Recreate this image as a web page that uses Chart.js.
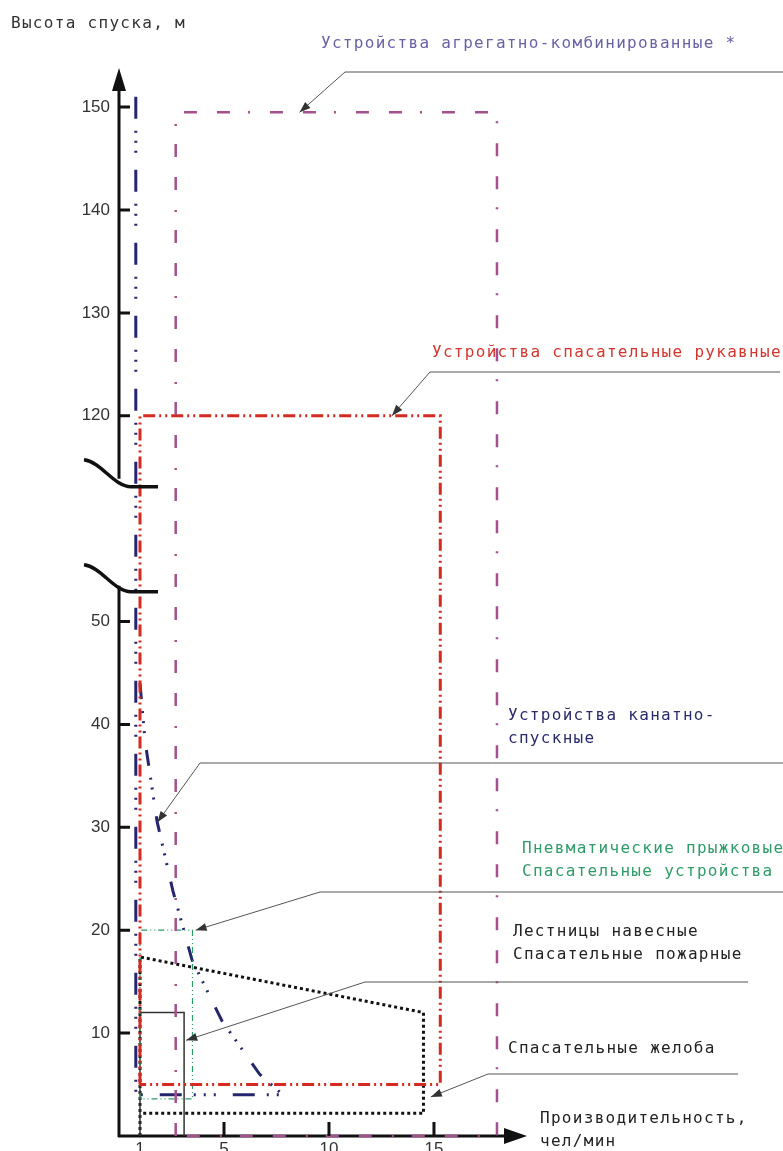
<!DOCTYPE html>
<html>
<head>
<meta charset="utf-8">
<script src="https://cdn.jsdelivr.net/npm/chart.js@4/dist/chart.umd.min.js"></script>
<style>
  html, body { margin: 0; padding: 0; background: #fff; }
  canvas { display: block; }
</style>
</head>
<body>
<canvas id="chart" width="783" height="1151"></canvas>
<script>
// x: производительность, чел/мин; y: высота спуска, м
const xTicks = [1, 5, 10, 15];
const yTicks = [10, 20, 30, 40, 50, 120, 130, 140, 150];

// устройства агрегатно-комбинированные
const aggX = [2.7, 2.7, 18.0, 18.0, 2.7];
const aggY = [0, 149.5, 149.5, 0, 0];
// устройства спасательные рукавные
const sleeveX = [1.0, 1.0, 15.3, 15.3, 1.0];
const sleeveY = [5, 120, 120, 5, 5];
// устройства канатно-спускные
const ropeX = [0.8, 0.8, 7.8];
const ropeY = [151, 4, 4];
const ropeSlopeX = [1.0, 1.24, 1.81, 2.57, 3.48, 4.9, 6.7, 7.8];
const ropeSlopeY = [44, 38.4, 30.6, 23.8, 17.1, 11.2, 6.0, 4.0];
// пневматические прыжковые спасательные устройства
const cushionX = [1.0, 1.0, 3.5, 3.5, 1.0];
const cushionY = [3.6, 20, 20, 3.6, 3.6];
// лестницы навесные, спасательные пожарные
const ladderX = [1.0, 1.0, 3.1, 3.1];
const ladderY = [0, 12, 12, 0];
// спасательные желоба
const chuteX = [1.0, 1.0, 14.5, 14.5, 1.0];
const chuteY = [0, 17.4, 12.0, 2.2, 2.2];

// разрыв оси Y: всё выше 60 м сдвигается вниз на 50
const SHIFT = 50;
const breakLow = 52.9, breakHigh = 113.1;
const toAxis = v => (v >= 60 ? v - SHIFT : v);

const pts = (xs, ys) => xs.map((x, i) => ({ x: x, y: toAxis(ys[i]) }));

const LABEL_FONT = '16px "DejaVu Sans Mono"';

function text(ctx, str, x, y, color) {
  ctx.fillStyle = color;
  ctx.font = LABEL_FONT;
  ctx.letterSpacing = '1.3px';
  ctx.textBaseline = 'middle';
  ctx.textAlign = 'left';
  ctx.fillText(str, x, y);
}

function arrowHead(ctx, fx, fy, tx, ty, len, half) {
  const a = Math.atan2(ty - fy, tx - fx);
  ctx.beginPath();
  ctx.moveTo(tx, ty);
  ctx.lineTo(tx - len * Math.cos(a) + half * Math.sin(a), ty - len * Math.sin(a) - half * Math.cos(a));
  ctx.lineTo(tx - len * Math.cos(a) - half * Math.sin(a), ty - len * Math.sin(a) + half * Math.cos(a));
  ctx.closePath();
  ctx.fill();
}

function leader(ctx, chart, x0, x1, yl, tx, ty) {
  const px = chart.scales.x.getPixelForValue(tx);
  const py = chart.scales.y.getPixelForValue(toAxis(ty));
  ctx.strokeStyle = '#555';
  ctx.fillStyle = '#333';
  ctx.lineWidth = 1;
  ctx.beginPath();
  ctx.moveTo(x1, yl);
  ctx.lineTo(x0, yl);
  ctx.lineTo(px, py);
  ctx.stroke();
  arrowHead(ctx, x0, yl, px, py, 11, 4);
}

const decor = {
  id: 'decor',
  beforeDatasetsDraw(chart) {
    const { ctx, scales: { x, y }, chartArea } = chart;
    const ax = x.getPixelForValue(0);
    const ay = y.getPixelForValue(0);
    const lowB = y.getPixelForValue(toAxis(breakLow));
    const upB = y.getPixelForValue(toAxis(breakHigh));
    ctx.save();
    ctx.strokeStyle = '#111';
    ctx.lineWidth = 3;
    ctx.beginPath();
    ctx.moveTo(ax, ay + 1); ctx.lineTo(ax, lowB - 6);
    ctx.moveTo(ax, upB - 8); ctx.lineTo(ax, chartArea.top + 16);
    ctx.moveTo(ax - 1, ay); ctx.lineTo(chartArea.right - 18, ay);
    ctx.stroke();
    ctx.restore();
  },
  afterDatasetsDraw(chart) {
    const { ctx, scales: { x, y }, chartArea } = chart;
    const ax = x.getPixelForValue(0);
    const ay = y.getPixelForValue(0);
    ctx.save();
    // ticks
    ctx.strokeStyle = '#111';
    ctx.lineWidth = 3;
    ctx.beginPath();
    yTicks.forEach(v => {
      const py = y.getPixelForValue(toAxis(v));
      ctx.moveTo(ax, py); ctx.lineTo(ax + 11, py);
    });
    xTicks.filter(v => v > 1).forEach(v => {
      const px = x.getPixelForValue(v);
      ctx.moveTo(px, ay); ctx.lineTo(px, ay - 14);
    });
    ctx.stroke();
    // break marks
    ctx.lineWidth = 3.5;
    [breakLow, breakHigh].forEach(b => {
      const yb = y.getPixelForValue(toAxis(b));
      ctx.beginPath();
      ctx.moveTo(ax - 35, yb - 27);
      ctx.bezierCurveTo(ax - 18, yb - 25, ax - 5, yb, ax + 12, yb);
      ctx.lineTo(ax + 39, yb);
      ctx.stroke();
    });
    // axis arrows
    ctx.fillStyle = '#111';
    ctx.beginPath();
    ctx.moveTo(ax, chartArea.top);
    ctx.lineTo(ax - 7, chartArea.top + 23);
    ctx.lineTo(ax + 7, chartArea.top + 23);
    ctx.closePath();
    ctx.fill();
    ctx.beginPath();
    ctx.moveTo(chartArea.right, ay);
    ctx.lineTo(chartArea.right - 23, ay - 8);
    ctx.lineTo(chartArea.right - 23, ay + 8);
    ctx.closePath();
    ctx.fill();

    // leader lines
    leader(ctx, chart, 345, 783, 72, 8.6, 149.5);
    leader(ctx, chart, 430, 780, 372, 13.0, 120);
    leader(ctx, chart, 200, 783, 763, 1.83, 30.5);
    leader(ctx, chart, 320, 783, 892, 3.65, 20);
    leader(ctx, chart, 365, 748, 982, 3.2, 9.3);
    leader(ctx, chart, 488, 738, 1074, 14.85, 3.8);

    // labels
    text(ctx, 'Высота спуска, м', 11, 24, '#333');
    text(ctx, 'Устройства агрегатно-комбинированные *', 321, 44, '#6a62a6');
    text(ctx, 'Устройства спасательные рукавные', 432, 353, '#d2372f');
    text(ctx, 'Устройства канатно-', 508, 716, '#2b2b6b');
    text(ctx, 'спускные', 508, 739, '#2b2b6b');
    text(ctx, 'Пневматические прыжковые', 522, 849, '#2f9c68');
    text(ctx, 'Спасательные устройства', 522, 872, '#2f9c68');
    text(ctx, 'Лестницы навесные', 513, 932, '#222');
    text(ctx, 'Спасательные пожарные', 513, 955, '#222');
    text(ctx, 'Спасательные желоба', 508, 1049, '#222');
    text(ctx, 'Производительность,', 540, 1119, '#222');
    text(ctx, 'чел/мин', 540, 1142, '#222');
    ctx.restore();
  }
};

const line = (data, color, width, dash) => ({
  data: data,
  showLine: true,
  borderColor: color,
  backgroundColor: color,
  borderWidth: width,
  borderDash: dash,
  pointRadius: 0,
  tension: 0,
  fill: false,
  clip: false
});

new Chart(document.getElementById('chart').getContext('2d'), {
  type: 'scatter',
  data: {
    datasets: [
      line(pts(aggX, aggY), '#a4508e', 2.5, [13, 20, 13, 18, 2, 20]),
      line(pts(sleeveX, sleeveY), '#d62a20', 3, [12, 4, 2, 4, 2, 4]),
      line(pts(cushionX, cushionY), '#2e9a66', 1.2, [6, 3, 1, 3, 1, 3]),
      line(pts(ladderX, ladderY), '#333', 1.5, []),
      line(pts(chuteX, chuteY), '#111', 3, [3, 3]),
      line(pts(ropeX, ropeY), '#26266e', 3, [22, 12, 2, 8, 2, 8, 2, 17]),
      line(pts(ropeSlopeX, ropeSlopeY), '#26266e', 3, [16, 12, 2, 8, 2, 8, 2, 17])
    ]
  },
  options: {
    responsive: false,
    animation: false,
    devicePixelRatio: 1,
    layout: { padding: { left: 0, top: 68, right: 256, bottom: 0 } },
    plugins: { legend: { display: false }, tooltip: { enabled: false } },
    scales: {
      x: {
        type: 'linear',
        min: 0,
        max: 19.43,
        grid: { display: false, drawTicks: false },
        border: { display: false },
        afterBuildTicks: s => { s.ticks = xTicks.map(v => ({ value: v })); },
        afterFit: s => { s.height = 15; s.paddingLeft = 0; s.paddingRight = 0; },
        ticks: {
          padding: 3,
          color: '#333',
          font: { family: 'Liberation Sans', size: 17 },
          maxRotation: 0,
          autoSkip: false
        }
      },
      y: {
        type: 'linear',
        min: 0,
        max: 103.8,
        grid: { display: false, drawTicks: false },
        border: { display: false },
        afterBuildTicks: s => { s.ticks = yTicks.map(v => ({ value: toAxis(v) })); },
        afterFit: s => { s.width = 119; s.paddingTop = 0; s.paddingBottom = 0; },
        ticks: {
          padding: 9,
          color: '#333',
          font: { family: 'Liberation Sans', size: 17 },
          autoSkip: false,
          callback: v => (v > 60 ? v + SHIFT : v)
        }
      }
    }
  },
  plugins: [decor]
});
</script>
</body>
</html>
